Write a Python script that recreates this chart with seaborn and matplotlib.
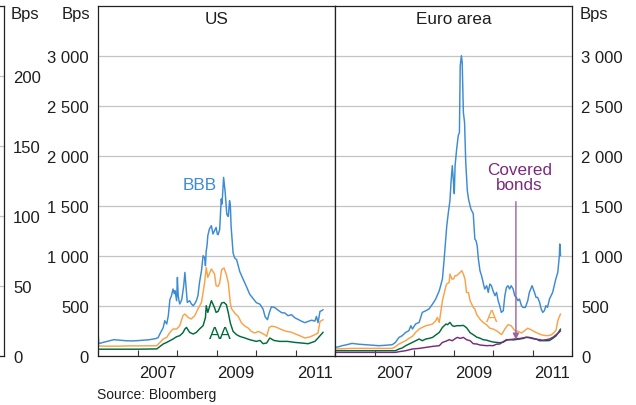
import numpy as np
import pandas as pd
import matplotlib
matplotlib.use("Agg")
import matplotlib.pyplot as plt
import seaborn as sns
from matplotlib.ticker import FixedLocator, FuncFormatter, NullFormatter

# ---------------- data (decimal years, basis points) ----------------
us_bbb_x = [2006.00, 2006.02, 2006.10, 2006.20, 2006.30, 2006.40, 2006.55, 2006.70, 2006.85, 2006.98,
            2007.15, 2007.30, 2007.45, 2007.52, 2007.57, 2007.61, 2007.65, 2007.69, 2007.74, 2007.78,
            2007.82, 2007.86, 2007.90, 2007.93, 2007.95, 2007.99, 2008.01, 2008.03, 2008.05, 2008.07,
            2008.12, 2008.17, 2008.20, 2008.22, 2008.26, 2008.32, 2008.36, 2008.41, 2008.45, 2008.49,
            2008.53, 2008.57, 2008.62, 2008.66, 2008.70, 2008.72, 2008.74, 2008.76, 2008.78, 2008.82,
            2008.87, 2008.91, 2008.95, 2008.99, 2009.02, 2009.04, 2009.08, 2009.12, 2009.14, 2009.18,
            2009.22, 2009.26, 2009.28, 2009.30, 2009.33, 2009.35, 2009.37, 2009.42, 2009.46, 2009.51,
            2009.59, 2009.68, 2009.76, 2009.84, 2009.93, 2010.01, 2010.10, 2010.18, 2010.23, 2010.29,
            2010.33, 2010.39, 2010.48, 2010.56, 2010.65, 2010.73, 2010.81, 2010.90, 2010.98, 2011.07,
            2011.15, 2011.24, 2011.32, 2011.41, 2011.49, 2011.53, 2011.57, 2011.62, 2011.66, 2011.70]
us_bbb_y = [245, 120, 130, 140, 150, 160, 155, 150, 148, 150,
            155, 160, 170, 180, 220, 250, 280, 350, 317, 400,
            560, 600, 667, 620, 650, 550, 783, 600, 550, 517,
            560, 700, 833, 733, 533, 550, 520, 500, 520, 550,
            600, 733, 850, 1000, 980, 900, 1050, 1100, 1200, 1267,
            1300, 1217, 1250, 1283, 1217, 1210, 1260, 1567, 1517, 1783,
            1633, 1417, 1400, 1393, 1550, 1510, 1293, 1027, 977, 960,
            840, 760, 690, 615, 570, 530, 515, 465, 390, 360,
            420, 490, 480, 455, 430, 427, 400, 410, 380, 362,
            345, 330, 343, 355, 345, 393, 330, 443, 450, 460]

us_a_x = [2006.00, 2006.20, 2006.50, 2006.80, 2007.10, 2007.49, 2007.57, 2007.65, 2007.74, 2007.82,
          2007.90, 2007.99, 2008.07, 2008.15, 2008.20, 2008.28, 2008.36, 2008.45, 2008.53, 2008.62,
          2008.70, 2008.74, 2008.78, 2008.87, 2008.95, 2008.99, 2009.04, 2009.08, 2009.13, 2009.19,
          2009.25, 2009.30, 2009.35, 2009.38, 2009.46, 2009.55, 2009.63, 2009.72, 2009.80, 2009.88,
          2009.97, 2010.06, 2010.14, 2010.22, 2010.27, 2010.33, 2010.39, 2010.48, 2010.56, 2010.65,
          2010.77, 2010.88, 2011.00, 2011.15, 2011.24, 2011.36, 2011.49, 2011.57, 2011.62, 2011.70]
us_a_y = [98, 95, 95, 98, 98, 100, 133, 167, 183, 233,
          267, 267, 300, 400, 417, 383, 367, 400, 467, 533,
          733, 883, 783, 867, 817, 700, 693, 727, 860, 877,
          810, 727, 527, 470, 427, 393, 330, 295, 277, 243,
          227, 243, 227, 210, 193, 280, 295, 290, 277, 260,
          243, 237, 217, 193, 177, 187, 210, 227, 343, 360]

us_aa_x = [2006.00, 2006.50, 2007.00, 2007.49, 2007.57, 2007.65, 2007.74, 2007.82, 2007.90, 2007.99,
           2008.07, 2008.15, 2008.20, 2008.24, 2008.32, 2008.41, 2008.49, 2008.57, 2008.66, 2008.72,
           2008.74, 2008.78, 2008.87, 2008.91, 2008.95, 2008.99, 2009.04, 2009.13, 2009.19, 2009.25,
           2009.30, 2009.35, 2009.42, 2009.51, 2009.59, 2009.72, 2009.84, 2010.01, 2010.10, 2010.18,
           2010.27, 2010.35, 2010.45, 2010.60, 2010.80, 2010.98, 2011.15, 2011.32, 2011.49, 2011.57,
           2011.70]
us_aa_y = [65, 65, 65, 68, 93, 117, 133, 150, 167, 190,
           200, 230, 267, 283, 233, 217, 233, 267, 300, 380,
           500, 433, 550, 517, 480, 433, 443, 527, 533, 510,
           427, 327, 243, 210, 193, 177, 160, 143, 153, 120,
           127, 177, 153, 143, 143, 133, 127, 120, 143, 177,
           235]

eu_bbb_x = [2006.01, 2006.10, 2006.18, 2006.30, 2006.43, 2006.60, 2006.77, 2006.95, 2007.11, 2007.30,
            2007.45, 2007.53, 2007.62, 2007.70, 2007.79, 2007.87, 2007.92, 2007.96, 2008.04, 2008.13,
            2008.21, 2008.30, 2008.38, 2008.47, 2008.55, 2008.64, 2008.72, 2008.76, 2008.79, 2008.83,
            2008.87, 2008.91, 2008.94, 2008.97, 2009.00, 2009.02, 2009.04, 2009.08, 2009.12, 2009.15,
            2009.17, 2009.20, 2009.22, 2009.25, 2009.28, 2009.31, 2009.35, 2009.38, 2009.40, 2009.44,
            2009.50, 2009.54, 2009.57, 2009.60, 2009.63, 2009.67, 2009.71, 2009.75, 2009.79, 2009.84,
            2009.88, 2009.92, 2009.96, 2010.00, 2010.05, 2010.09, 2010.13, 2010.17, 2010.21, 2010.26,
            2010.30, 2010.34, 2010.38, 2010.42, 2010.46, 2010.51, 2010.55, 2010.59, 2010.63, 2010.67,
            2010.72, 2010.76, 2010.82, 2010.88, 2010.92, 2010.99, 2011.05, 2011.09, 2011.13, 2011.18,
            2011.22, 2011.26, 2011.30, 2011.34, 2011.38, 2011.43, 2011.47, 2011.51, 2011.55, 2011.59,
            2011.64, 2011.68, 2011.69, 2011.71]
eu_bbb_y = [83, 90, 100, 110, 123, 115, 110, 105, 100, 105,
            110, 133, 183, 200, 233, 250, 300, 267, 317, 333,
            433, 450, 467, 517, 567, 650, 767, 950, 1100, 1300,
            1433, 1550, 1750, 1900, 1733, 1620, 1900, 2067, 2200, 2233,
            2900, 3000, 2933, 2433, 2333, 1933, 1650, 1567, 1533, 1467,
            1420, 1167, 1150, 1100, 967, 850, 800, 733, 667, 700,
            633, 717, 700, 650, 600, 633, 550, 500, 433, 450,
            600, 683, 700, 667, 700, 667, 600, 583, 550, 567,
            500, 483, 483, 550, 633, 700, 633, 583, 583, 533,
            467, 433, 450, 500, 483, 567, 600, 633, 700, 767,
            833, 1000, 1117, 1000]

eu_a_x = [2006.01, 2006.43, 2007.00, 2007.45, 2007.53, 2007.62, 2007.70, 2007.79, 2007.87, 2007.96,
          2008.04, 2008.13, 2008.21, 2008.30, 2008.38, 2008.47, 2008.55, 2008.59, 2008.64, 2008.72,
          2008.75, 2008.81, 2008.83, 2008.89, 2008.91, 2008.96, 2009.00, 2009.04, 2009.08, 2009.17,
          2009.21, 2009.25, 2009.29, 2009.33, 2009.38, 2009.42, 2009.46, 2009.50, 2009.54, 2009.59,
          2009.67, 2009.75, 2009.84, 2009.92, 2010.00, 2010.09, 2010.17, 2010.22, 2010.30, 2010.38,
          2010.46, 2010.55, 2010.63, 2010.72, 2010.80, 2010.88, 2010.96, 2011.05, 2011.13, 2011.22,
          2011.30, 2011.38, 2011.47, 2011.55, 2011.60, 2011.64, 2011.69, 2011.71]
eu_a_y = [67, 73, 73, 73, 90, 117, 133, 150, 173, 193,
          233, 267, 283, 300, 307, 317, 350, 383, 333, 550,
          600, 700, 717, 733, 817, 767, 767, 800, 800, 833,
          850, 817, 767, 633, 630, 550, 517, 483, 467, 410,
          365, 333, 308, 275, 267, 250, 225, 212, 267, 310,
          300, 250, 245, 227, 250, 275, 260, 240, 225, 210,
          203, 200, 207, 233, 260, 350, 400, 417]

eu_aa_x = [2006.01, 2006.50, 2007.00, 2007.53, 2007.62, 2007.70, 2007.79, 2007.96, 2008.13, 2008.21,
           2008.30, 2008.38, 2008.47, 2008.55, 2008.64, 2008.72, 2008.81, 2008.85, 2008.91, 2008.97,
           2009.02, 2009.08, 2009.17, 2009.25, 2009.33, 2009.42, 2009.50, 2009.59, 2009.67, 2009.75,
           2009.84, 2009.92, 2010.00, 2010.09, 2010.17, 2010.26, 2010.34, 2010.43, 2010.51, 2010.59,
           2010.68, 2010.76, 2010.84, 2010.92, 2011.01, 2011.10, 2011.18, 2011.26, 2011.35, 2011.43,
           2011.52, 2011.60, 2011.66, 2011.71]
eu_aa_y = [50, 50, 50, 50, 67, 77, 100, 133, 167, 150,
           167, 173, 183, 207, 233, 283, 317, 310, 333, 300,
           293, 300, 300, 303, 280, 230, 210, 185, 175, 160,
           155, 145, 137, 133, 130, 135, 155, 162, 158, 162,
           167, 172, 185, 183, 175, 165, 150, 150, 150, 152,
           175, 200, 235, 267]

eu_cb_x = [2006.01, 2006.50, 2007.00, 2007.53, 2007.62, 2007.79, 2007.96, 2008.13, 2008.30, 2008.47,
           2008.64, 2008.72, 2008.81, 2008.89, 2008.97, 2009.06, 2009.10, 2009.17, 2009.25, 2009.33,
           2009.42, 2009.50, 2009.59, 2009.67, 2009.84, 2009.92, 2010.00, 2010.09, 2010.17, 2010.26,
           2010.34, 2010.43, 2010.51, 2010.59, 2010.68, 2010.76, 2010.84, 2010.92, 2011.01, 2011.10,
           2011.18, 2011.26, 2011.35, 2011.43, 2011.52, 2011.60, 2011.69, 2011.71]
eu_cb_y = [33, 33, 33, 33, 40, 50, 67, 73, 83, 93,
           100, 133, 145, 160, 150, 175, 183, 173, 183, 160,
           150, 120, 117, 107, 100, 102, 100, 115, 117, 140,
           160, 160, 165, 170, 172, 178, 183, 180, 170, 165,
           160, 155, 160, 167, 185, 210, 240, 250]

y_ticks = [0, 500, 1000, 1500, 2000, 2500, 3000]
left_ticks = [0, 50, 100, 150, 200]
year_ticks = [2006, 2007, 2008, 2009, 2010, 2011, 2012]
year_labels = ["2007", "2009", "2011"]

# ---------------- style ----------------
sns.set_theme(style="white")
plt.rcParams['font.family'] = ['Liberation Sans', 'DejaVu Sans']
TXT = "#1e1e1e"
C_BBB = "#3d8bd3"
C_A = "#f8a349"
C_AA = "#006b3c"
C_CB = "#7a2a7d"
GRID = "#c4c4c4"

W, H = 636, 406
fig = plt.figure(figsize=(W / 100, H / 100), dpi=100)

def fx(px):
    return px / W

def fy(py):
    return 1 - py / H

top_px, bot_px = 6.7, 356.7
ax_us = fig.add_axes([fx(98), fy(bot_px), fx(335 - 98), (bot_px - top_px) / H])
ax_eu = fig.add_axes([fx(335), fy(bot_px), fx(572 - 335), (bot_px - top_px) / H])
ax_left = fig.add_axes([fx(-120), fy(bot_px), fx(124), (bot_px - top_px) / H])

def frame(series):
    parts = []
    for name, xs, ys in series:
        parts.append(pd.DataFrame({"date": xs, "bps": ys, "series": name}))
    return pd.concat(parts, ignore_index=True)

df_us = frame([("BBB", us_bbb_x, us_bbb_y), ("A", us_a_x, us_a_y), ("AA", us_aa_x, us_aa_y)])
df_eu = frame([("BBB", eu_bbb_x, eu_bbb_y), ("A", eu_a_x, eu_a_y), ("AA", eu_aa_x, eu_aa_y),
               ("Covered bonds", eu_cb_x, eu_cb_y)])
pal = {"BBB": C_BBB, "A": C_A, "AA": C_AA, "Covered bonds": C_CB}

sns.lineplot(data=df_us, x="date", y="bps", hue="series", palette=pal, estimator=None,
             legend=False, ax=ax_us, linewidth=1.05)
sns.lineplot(data=df_eu, x="date", y="bps", hue="series", palette=pal, estimator=None,
             legend=False, ax=ax_eu, linewidth=1.05)

fmt = FuncFormatter(lambda v, p: f"{int(v):,}".replace(",", " "))

for ax in (ax_us, ax_eu):
    ax.set_xlim(2006, 2012)
    ax.set_ylim(0, 3500)
    ax.set_xlabel("")
    ax.set_ylabel("")
    ax.set_axisbelow(True)
    ax.yaxis.set_major_locator(FixedLocator(y_ticks))
    ax.yaxis.set_major_formatter(fmt)
    ax.yaxis.grid(True, color=GRID, linewidth=0.9)
    ax.xaxis.grid(False)
    ax.xaxis.set_major_locator(FixedLocator(year_ticks))
    ax.xaxis.set_major_formatter(NullFormatter())
    ax.xaxis.set_minor_locator(FixedLocator([2007.5, 2009.5, 2011.5]))
    ax.set_xticklabels(year_labels, minor=True)
    ax.tick_params(axis="x", which="major", direction="in", length=4, width=0.8, color="#333333",
                   bottom=True)
    ax.tick_params(axis="x", which="minor", length=0, pad=7, labelsize=12, labelcolor=TXT)
    ax.tick_params(axis="y", length=0, pad=6.5, labelsize=12, labelcolor=TXT)
    for s in ax.spines.values():
        s.set_color("#222222")
        s.set_linewidth(0.9)
        s.set_visible(True)

ax_eu.yaxis.tick_right()
ax_eu.tick_params(axis="y", left=False, right=False, labelleft=False, labelright=True)
ax_us.tick_params(axis="y", labelleft=True, labelright=False)

# partial neighbouring panel on the far left
ax_left.set_xlim(0, 1)
ax_left.set_ylim(0, 250)
ax_left.set_axisbelow(True)
ax_left.yaxis.set_major_locator(FixedLocator(left_ticks))
ax_left.yaxis.grid(True, color=GRID, linewidth=0.9)
ax_left.set_xticks([])
ax_left.yaxis.tick_right()
ax_left.tick_params(axis="y", length=0, pad=6.5, labelsize=12, labelcolor=TXT,
                    left=False, right=False, labelleft=False, labelright=True)
for s in ax_left.spines.values():
    s.set_color("#222222")
    s.set_linewidth(0.9)

# panel titles
ax_us.text(0.5, 1 - 13.3 / 350, "US", transform=ax_us.transAxes, ha="center", va="center",
           fontsize=12.3, color=TXT)
ax_eu.text(0.5, 1 - 13.3 / 350, "Euro area", transform=ax_eu.transAxes, ha="center", va="center",
           fontsize=12.3, color=TXT)

# unit labels
fig.text(fx(90), fy(14), "Bps", ha="right", va="center", fontsize=12, color=TXT)
fig.text(fx(580), fy(14), "Bps", ha="left", va="center", fontsize=12, color=TXT)
fig.text(fx(11), fy(14), "Bps", ha="left", va="center", fontsize=12, color=TXT)

# series labels
ax_us.text(2008.57, 1707, "BBB", ha="center", va="center", fontsize=12.3, color=C_BBB)
ax_us.text(2009.09, 217, "AA", ha="center", va="center", fontsize=12.3, color=C_AA)
ax_eu.text(2009.97, 387, "A", ha="center", va="center", fontsize=12.3, color=C_A)
ax_eu.text(2010.67, 1787, "Covered\nbonds", ha="center", va="center", fontsize=12.3,
           color=C_CB, linespacing=1.0)
ax_eu.annotate("", xy=(2010.58, 160), xytext=(2010.58, 1540),
               arrowprops=dict(arrowstyle="-|>", color="#9b62a0", lw=1.0,
                               mutation_scale=9, shrinkA=0, shrinkB=0))

fig.text(fx(97), fy(395), "Source: Bloomberg", ha="left", va="center", fontsize=10, color=TXT)

fig.savefig("out.png", dpi=100)
